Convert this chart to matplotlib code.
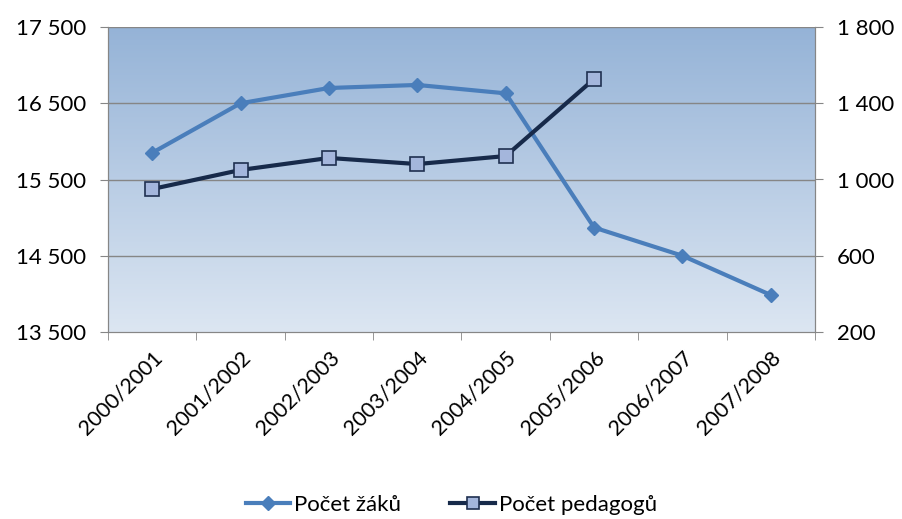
import numpy as np
import matplotlib.pyplot as plt
from matplotlib.ticker import FuncFormatter, FixedLocator
from matplotlib.colors import LinearSegmentedColormap

plt.rcParams['font.family'] = ['Lato', 'DejaVu Sans']

# school years and counts
years = ["2000/2001", "2001/2002", "2002/2003", "2003/2004",
         "2004/2005", "2005/2006", "2006/2007", "2007/2008"]
zaci = [15850, 16500, 16700, 16740, 16630, 14870, 14500, 13985]
pedagogove = [950, 1050, 1113, 1081, 1123, 1527]

left_ticks = [13500, 14500, 15500, 16500, 17500]
right_ticks = [200, 600, 1000, 1400, 1800]


def space_thousands(v, pos=None):
    return f"{int(v):,}".replace(",", " ")


fig = plt.figure(figsize=(9.03, 5.19), dpi=100)
ax = fig.add_axes([108 / 903, 1 - 332 / 519, 707 / 903, 305 / 519])
ax2 = ax.twinx()

x = np.arange(len(years))
ax.set_xlim(-0.5, len(years) - 0.5)
ax.set_ylim(left_ticks[0], left_ticks[-1])
ax2.set_ylim(right_ticks[0], right_ticks[-1])

# blue gradient background of the plot area
grad = LinearSegmentedColormap.from_list("bg", ["#dce6f2", "#95b3d7"])
ax.imshow(np.linspace(0, 1, 256).reshape(-1, 1), cmap=grad, aspect="auto",
          origin="lower", extent=(-0.5, len(years) - 0.5, left_ticks[0], left_ticks[-1]),
          zorder=0)

for t in left_ticks[1:]:
    ax.axhline(t, color="#868686", lw=1.0, zorder=1)

l1, = ax.plot(x, zaci, color="#4a7ebb", lw=3, marker="D", ms=7.5,
              mfc="#4a7ebb", mec="#4a7ebb", zorder=3)
l2, = ax2.plot(x[:len(pedagogove)], pedagogove, color="#172a4a", lw=3,
               marker="s", ms=10, mfc="#a4b6dc", mec="#1f3050", mew=1.2, zorder=3)

ax.yaxis.set_major_locator(FixedLocator(left_ticks))
ax.yaxis.set_major_formatter(FuncFormatter(space_thousands))
ax2.yaxis.set_major_locator(FixedLocator(right_ticks))
ax2.yaxis.set_major_formatter(FuncFormatter(space_thousands))

ax.set_xticks(x)
ax.set_xticklabels(years, rotation=45, ha="right", rotation_mode="anchor")
ax.set_xticks(np.arange(-0.5, len(years)), minor=True)
ax.tick_params(axis="x", which="major", length=0, pad=11, labelsize=15.5, colors="#000000")
ax.tick_params(axis="x", which="minor", length=6, color="#868686")
ax.tick_params(axis="y", length=6, color="#868686", labelsize=16, pad=10)
ax2.tick_params(axis="y", length=6, color="#868686", labelsize=16, pad=10)

for a in (ax, ax2):
    for s in a.spines.values():
        s.set_color("#868686")
    a.spines["top"].set_visible(False)

leg = fig.legend([l1, l2], ["Počet žáků", "Počet pedagogů"], loc="center",
                 bbox_to_anchor=(0.5, 1 - 505 / 519), ncol=2, frameon=False,
                 fontsize=16, handlelength=2.0, columnspacing=2.2, handletextpad=0.2)
for h in leg.legend_handles:
    h.set_markersize(7 if h.get_marker() == "D" else 9)

fig.savefig("out.png", dpi=100)
